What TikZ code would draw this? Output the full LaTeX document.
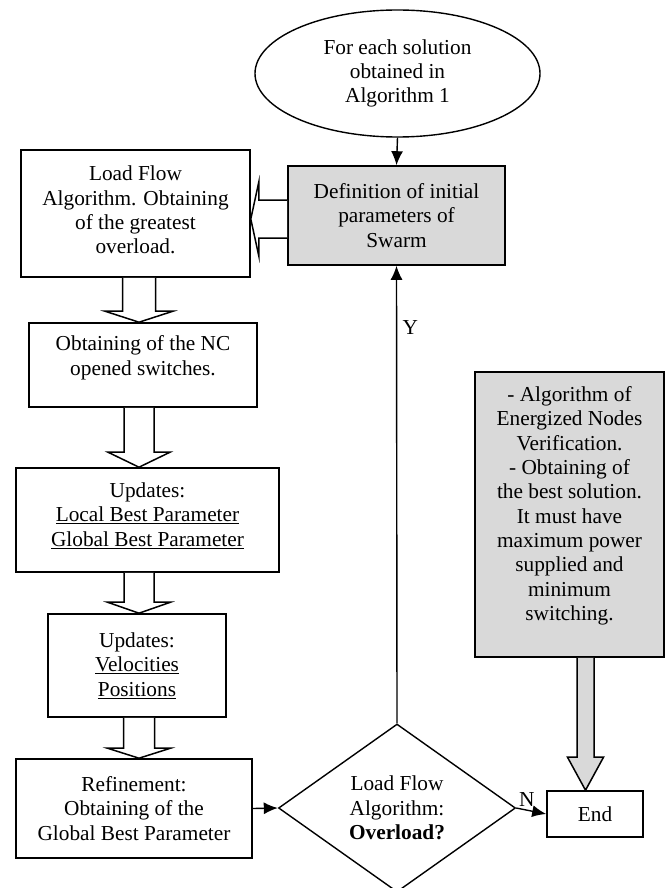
\documentclass[tikz,border=0pt]{standalone}
\usepackage{fontspec}
\setmainfont{Liberation Serif}
\usetikzlibrary{calc,shapes.geometric,arrows.meta}
\definecolor{boxgray}{RGB}{217,217,217}
\tikzset{>={Latex[length=14pt,width=12pt]}}
\tikzstyle{procbox} =[draw,line width=1.6pt,align=center,inner sep=0pt,fill=white]
\tikzstyle{greybox} =[procbox,fill=boxgray]
\tikzstyle{flow}    =[line width=1.4pt,->]
\tikzstyle{fatarrow}=[line width=1.5pt,line join=miter]
% hollow block arrow going down from #2 to #3 along the axis #4
\newcommand\fatdown[7][white]{{
  % #5 half shaft, #6 half head, #7 head length
  \draw[fatarrow,fill=#1]
    ($(#2.south -| #4)+(-#5,0)$)
    -- ($(#3.north -| #4)+(-#5,-#7)$) -- ++(#5-#6,0)
    -- (#3.north -| #4)
    -- ($(#3.north -| #4)+(#6,-#7)$) -- ++(#5-#6,0)
    -- ($(#2.south -| #4)+(#5,0)$);
}}

\begin{document}
\begin{tikzpicture}[x=1pt,y=-1pt,font=\fontsize{21.3}{24.3}\selectfont]
  \useasboundingbox (0,0) rectangle (665,888);
  % Axes of the block arrows
  \coordinate (ax) at (139,0);
  \coordinate (gx) at (585.5,0);
  \coordinate (ay) at (0,219);

  % Nodes
  \node[draw,ellipse,line width=1.4pt,minimum width=285pt,minimum height=127pt,
        inner sep=0pt,align=center] (start) at (397.5,73.5)
    {For each solution\\obtained in\\Algorithm 1};
  \node[greybox,minimum width=217pt,minimum height=99pt] (def) at (396.5,215.5)
    {Definition of initial\\parameters of\\Swarm};
  \node[procbox,minimum width=229pt,minimum height=127pt,text depth=7pt] (lf) at (135.5,213.5)
    {Load Flow\\Algorithm. Obtaining\\of the greatest\\overload.};
  \node[procbox,minimum width=228pt,minimum height=84pt,text depth=19pt] (nc) at (143,365)
    {Obtaining of the NC\\opened switches.};
  \node[procbox,minimum width=263pt,minimum height=104pt,text depth=11pt] (upd1) at (147.5,520)
    {Updates:\\\underline{Local Best Parameter}\\\underline{Global Best Parameter}};
  \node[procbox,minimum width=178pt,minimum height=103pt] (upd2) at (137,665.5)
    {Updates:\\\underline{Velocities}\\\underline{Positions}};
  \node[procbox,minimum width=236pt,minimum height=99pt] (ref) at (134,808.5)
    {Refinement:\\Obtaining of the\\Global Best Parameter};
  \node[draw,diamond,line width=1.4pt,minimum width=237pt,minimum height=168pt,
        inner sep=0pt,align=center] (dec) at (397,808)
    {Load Flow\\Algorithm:\\\textbf{Overload?}};
  \node[greybox,minimum width=189pt,minimum height=285pt,text depth=22pt] (ver) at (569.5,514.5)
    {- Algorithm of\\Energized Nodes\\Verification.\\- Obtaining of\\the best solution.\\It must have\\maximum power\\supplied and\\minimum\\switching.};
  \node[procbox,minimum width=96pt,minimum height=46pt] (end) at (595,814) {End};

  % Thin connectors
  \draw[flow] (start.south) -- (def.north);
  \draw[flow] (dec.north) -- (def.south) node[pos=0.865,right=2pt] {Y};
  \draw[flow] (ref.east) -- (dec.west);
  \draw[flow] (dec.east) -- (end.west) node[pos=0.35,above] {N};

  % Block arrows
  \draw[fatarrow,fill=white]
    ($(def.west |- ay)+(0,-19)$) -- ($(lf.east |- ay)+(8,-19)$) -- ++(0,-18)
    -- (lf.east |- ay)
    -- ($(lf.east |- ay)+(8,37)$) -- ++(0,-18) -- ($(def.west |- ay)+(0,19)$);
  \fatdown{lf}{nc}{ax}{16.5}{34}{11}
  \fatdown{nc}{upd1}{ax}{15}{31}{15}
  \fatdown{upd1}{upd2}{ax}{15}{31.5}{11}
  \fatdown{upd2}{ref}{ax}{15.5}{31.5}{10}
  \fatdown[boxgray]{ver}{end}{gx}{8.5}{18}{33}
\end{tikzpicture}
\end{document}
